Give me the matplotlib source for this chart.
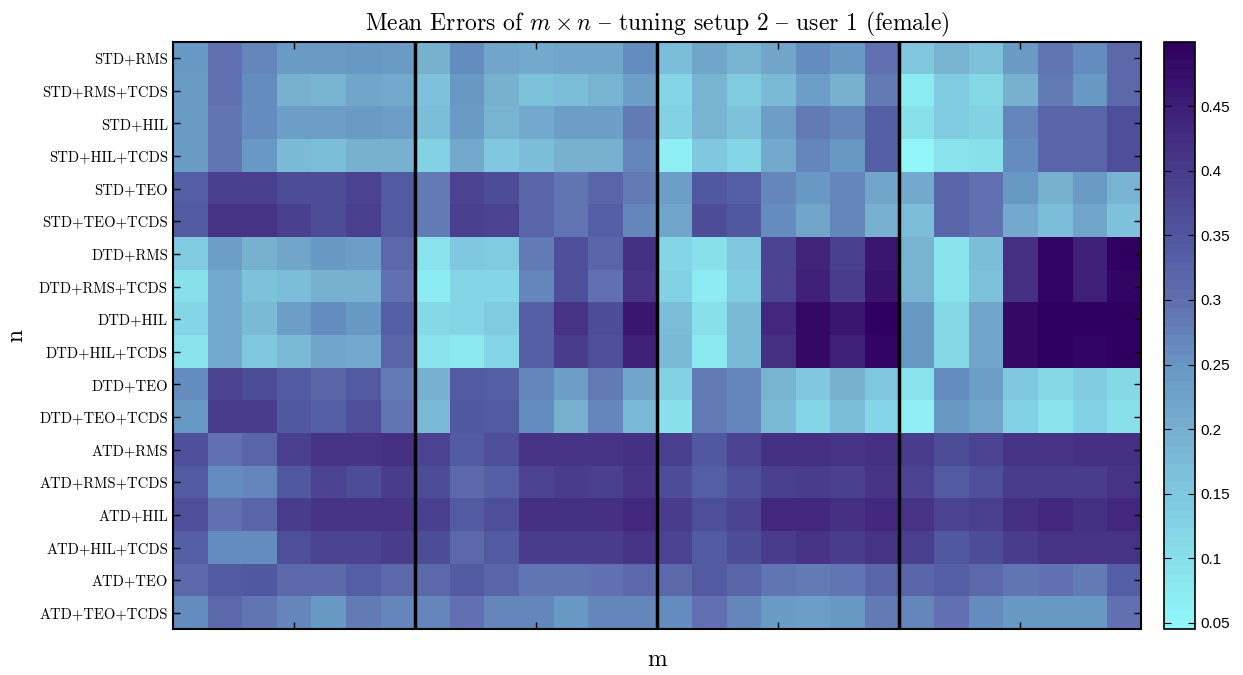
import numpy as np
import matplotlib
matplotlib.use('Agg')
import matplotlib.pyplot as plt
from matplotlib.colors import LinearSegmentedColormap
from matplotlib.ticker import FuncFormatter

plt.rcParams['font.family'] = ['cmr10', 'DejaVu Serif']
plt.rcParams['mathtext.fontset'] = 'cm'
plt.rcParams['axes.unicode_minus'] = False
plt.rcParams['axes.formatter.use_mathtext'] = True

# feature combinations (rows)
features = ['STD+RMS', 'STD+RMS+TCDS', 'STD+HIL', 'STD+HIL+TCDS',
            'STD+TEO', 'STD+TEO+TCDS', 'DTD+RMS', 'DTD+RMS+TCDS',
            'DTD+HIL', 'DTD+HIL+TCDS', 'DTD+TEO', 'DTD+TEO+TCDS',
            'ATD+RMS', 'ATD+RMS+TCDS', 'ATD+HIL', 'ATD+HIL+TCDS',
            'ATD+TEO', 'ATD+TEO+TCDS']

# mean errors, one block of 7 tuning values per m
errors_m1 = [
    [0.25, 0.30, 0.27, 0.24, 0.24, 0.25, 0.24],
    [0.24, 0.30, 0.26, 0.20, 0.19, 0.22, 0.21],
    [0.24, 0.29, 0.26, 0.23, 0.23, 0.24, 0.23],
    [0.24, 0.29, 0.25, 0.18, 0.17, 0.20, 0.20],
    [0.33, 0.39, 0.39, 0.37, 0.37, 0.38, 0.34],
    [0.34, 0.41, 0.41, 0.39, 0.37, 0.39, 0.34],
    [0.14, 0.23, 0.20, 0.22, 0.25, 0.23, 0.31],
    [0.10, 0.21, 0.16, 0.17, 0.20, 0.20, 0.30],
    [0.12, 0.21, 0.18, 0.23, 0.26, 0.25, 0.33],
    [0.09, 0.21, 0.15, 0.18, 0.22, 0.21, 0.32],
    [0.26, 0.38, 0.37, 0.34, 0.32, 0.34, 0.28],
    [0.25, 0.40, 0.40, 0.35, 0.33, 0.36, 0.29],
    [0.36, 0.30, 0.32, 0.39, 0.41, 0.41, 0.42],
    [0.34, 0.26, 0.27, 0.35, 0.38, 0.37, 0.40],
    [0.36, 0.30, 0.32, 0.40, 0.41, 0.41, 0.41],
    [0.33, 0.26, 0.26, 0.36, 0.38, 0.38, 0.40],
    [0.31, 0.34, 0.35, 0.31, 0.31, 0.33, 0.31],
    [0.26, 0.31, 0.29, 0.27, 0.25, 0.28, 0.27],
]
errors_m2 = [
    [0.20, 0.26, 0.22, 0.21, 0.22, 0.22, 0.26],
    [0.16, 0.25, 0.20, 0.16, 0.17, 0.19, 0.23],
    [0.17, 0.24, 0.19, 0.21, 0.23, 0.23, 0.28],
    [0.13, 0.21, 0.15, 0.17, 0.20, 0.20, 0.27],
    [0.28, 0.38, 0.37, 0.32, 0.29, 0.32, 0.28],
    [0.28, 0.39, 0.38, 0.32, 0.29, 0.33, 0.27],
    [0.09, 0.15, 0.14, 0.28, 0.36, 0.32, 0.42],
    [0.07, 0.12, 0.12, 0.27, 0.36, 0.30, 0.41],
    [0.11, 0.12, 0.14, 0.33, 0.41, 0.37, 0.46],
    [0.09, 0.08, 0.12, 0.33, 0.40, 0.36, 0.45],
    [0.20, 0.34, 0.33, 0.27, 0.23, 0.28, 0.22],
    [0.18, 0.35, 0.34, 0.26, 0.20, 0.27, 0.18],
    [0.38, 0.34, 0.36, 0.41, 0.41, 0.41, 0.42],
    [0.37, 0.31, 0.33, 0.38, 0.40, 0.39, 0.41],
    [0.39, 0.34, 0.36, 0.42, 0.42, 0.42, 0.43],
    [0.37, 0.31, 0.34, 0.40, 0.40, 0.40, 0.41],
    [0.31, 0.34, 0.32, 0.29, 0.29, 0.30, 0.31],
    [0.27, 0.30, 0.27, 0.27, 0.25, 0.27, 0.27],
]
errors_m3 = [
    [0.17, 0.22, 0.19, 0.22, 0.26, 0.25, 0.30],
    [0.12, 0.19, 0.14, 0.18, 0.23, 0.20, 0.28],
    [0.13, 0.19, 0.16, 0.23, 0.28, 0.27, 0.33],
    [0.06, 0.15, 0.12, 0.21, 0.27, 0.25, 0.33],
    [0.23, 0.35, 0.33, 0.27, 0.25, 0.27, 0.22],
    [0.22, 0.37, 0.35, 0.26, 0.22, 0.27, 0.20],
    [0.12, 0.10, 0.15, 0.38, 0.44, 0.39, 0.46],
    [0.13, 0.07, 0.14, 0.38, 0.45, 0.40, 0.47],
    [0.17, 0.10, 0.18, 0.43, 0.48, 0.46, 0.50],
    [0.18, 0.08, 0.18, 0.42, 0.48, 0.45, 0.49],
    [0.13, 0.28, 0.27, 0.19, 0.15, 0.20, 0.15],
    [0.10, 0.28, 0.27, 0.18, 0.12, 0.17, 0.12],
    [0.39, 0.35, 0.38, 0.42, 0.42, 0.41, 0.42],
    [0.37, 0.33, 0.36, 0.39, 0.40, 0.39, 0.41],
    [0.40, 0.36, 0.38, 0.43, 0.43, 0.42, 0.43],
    [0.38, 0.34, 0.37, 0.40, 0.41, 0.40, 0.41],
    [0.31, 0.34, 0.32, 0.29, 0.28, 0.29, 0.32],
    [0.26, 0.30, 0.27, 0.24, 0.23, 0.25, 0.28],
]
errors_m4 = [
    [0.15, 0.19, 0.16, 0.24, 0.29, 0.26, 0.31],
    [0.07, 0.14, 0.11, 0.20, 0.28, 0.25, 0.31],
    [0.10, 0.14, 0.13, 0.27, 0.32, 0.32, 0.36],
    [0.05, 0.09, 0.10, 0.26, 0.32, 0.32, 0.36],
    [0.21, 0.32, 0.30, 0.25, 0.20, 0.24, 0.19],
    [0.17, 0.32, 0.30, 0.21, 0.17, 0.22, 0.16],
    [0.19, 0.09, 0.17, 0.42, 0.49, 0.45, 0.50],
    [0.19, 0.09, 0.16, 0.42, 0.49, 0.45, 0.49],
    [0.25, 0.11, 0.22, 0.48, 0.50, 0.50, 0.50],
    [0.25, 0.11, 0.22, 0.48, 0.50, 0.49, 0.50],
    [0.09, 0.26, 0.23, 0.15, 0.11, 0.14, 0.11],
    [0.06, 0.25, 0.22, 0.13, 0.09, 0.13, 0.10],
    [0.40, 0.37, 0.38, 0.41, 0.41, 0.42, 0.42],
    [0.38, 0.34, 0.36, 0.40, 0.40, 0.40, 0.41],
    [0.41, 0.38, 0.39, 0.42, 0.43, 0.42, 0.43],
    [0.39, 0.35, 0.37, 0.40, 0.41, 0.41, 0.41],
    [0.32, 0.33, 0.31, 0.29, 0.30, 0.28, 0.33],
    [0.27, 0.30, 0.26, 0.25, 0.25, 0.25, 0.30],
]

cb_ticks = [0.05, 0.1, 0.15, 0.2, 0.25, 0.3, 0.35, 0.4, 0.45]

# cyan -> blue -> dark purple, 64 discrete steps
cmap = LinearSegmentedColormap.from_list('cyanpurple', [
    '#92f6f9', '#88e0ea', '#80c8e0', '#78b0d0', '#6898c4',
    '#6070b0', '#5058a0', '#4a3c8c', '#3e2078', '#300060'], N=64)

data = np.hstack([np.array(errors_m1), np.array(errors_m2),
                  np.array(errors_m3), np.array(errors_m4)])
n_rows, n_cols = data.shape
block = n_cols // 4

fig = plt.figure(figsize=(12.43, 6.75), dpi=100)
ax = fig.add_axes([0.139, 0.068, 0.779, 0.870])
cax = fig.add_axes([0.9365, 0.068, 0.025, 0.870])

im = ax.imshow(data, cmap=cmap, vmin=0.045, vmax=0.5, aspect='auto',
               interpolation='nearest')

# separators between the m blocks
for k in range(1, 4):
    ax.axvline(k * block - 0.5, color='black', lw=2.5)

ax.set_xticks([k * block + (block - 1) / 2 for k in range(4)])
ax.set_xticklabels([])
ax.set_yticks(np.arange(n_rows))
ax.set_yticklabels(features, fontsize=10.5)
ax.tick_params(direction='in', top=True, right=True, length=5, width=1)
for s in ax.spines.values():
    s.set_linewidth(1.5)

ax.set_xlabel('m', fontsize=17, labelpad=11)
ax.set_ylabel('n', fontsize=17, labelpad=8)
# '{' is the en dash slot in cmr10
ax.set_title('Mean Errors of $m \\times n$ { tuning setup 2 { user 1 (female)',
             fontsize=17, pad=8)

cb = fig.colorbar(im, cax=cax, ticks=cb_ticks)
cb.ax.yaxis.set_major_formatter(FuncFormatter(lambda v, p: '%g' % v))
cb.ax.tick_params(direction='in', length=5, left=True, right=True, labelsize=11)
for lab in cb.ax.get_yticklabels():
    lab.set_family(['Liberation Sans', 'DejaVu Sans'])
cb.outline.set_linewidth(1.2)

fig.savefig('out.png', dpi=100)
